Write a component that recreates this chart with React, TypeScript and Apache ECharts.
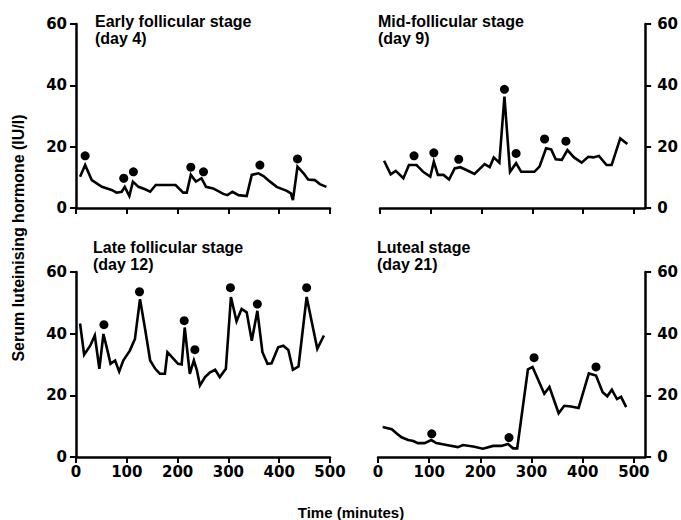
import React, { useEffect, useRef } from "react";
import * as echarts from "echarts";

// ---- Data (time in minutes, LH in IU/l) ----
const earlyT = [8, 18, 31, 51, 70, 80, 90, 96, 105, 112, 123, 136, 146, 157, 196, 211, 218, 226, 236, 247, 256, 270, 290, 298, 308, 320, 336, 346, 359, 369, 382, 395, 415, 423, 427, 436, 448, 457, 470, 480, 493];
const earlyV = [10.2, 14, 9.1, 6.9, 5.9, 5, 5.3, 6.9, 3.9, 8.6, 6.9, 6.1, 5.3, 7.5, 7.5, 5, 5, 10.8, 8.6, 9.7, 6.9, 6.4, 4.6, 4.2, 5.3, 4.2, 3.9, 10.8, 11.3, 10.4, 8.6, 6.9, 5.6, 4.8, 2.6, 13.5, 11.3, 9.3, 9.1, 7.8, 6.9];
const earlyPeakT = [18, 94, 113, 226, 251, 362, 436];
const earlyPeakV = [17, 9.7, 11.8, 13.3, 11.8, 14, 16];

const midT = [8, 21, 31, 46, 57, 72, 85, 99, 106, 114, 125, 136, 147, 158, 170, 186, 206, 216, 224, 235, 245, 256, 268, 278, 304, 314, 327, 337, 346, 358, 369, 382, 397, 410, 420, 431, 446, 456, 473, 487];
const midV = [15.4, 11, 12.1, 9.7, 14, 14, 11.8, 10.2, 15.1, 10.8, 10.8, 9.3, 12.9, 13.3, 12.4, 11.1, 14.3, 13.3, 16.5, 14.8, 36.3, 11.8, 14.6, 11.8, 11.8, 13.5, 19.5, 19.1, 15.9, 15.7, 18.9, 16.5, 14.8, 16.7, 16.5, 17, 14, 14, 22.7, 20.9];
const midPeakT = [67, 106, 155, 245, 268, 324, 366];
const midPeakV = [17, 18, 15.9, 38.7, 17.8, 22.5, 21.8];

const lateT = [8, 16, 28, 37, 46, 54, 62, 68, 77, 85, 93, 106, 116, 126, 136, 146, 156, 165, 175, 180, 192, 201, 208, 214, 224, 232, 238, 244, 254, 264, 274, 283, 295, 305, 316, 326, 336, 346, 357, 367, 377, 385, 398, 408, 418, 427, 438, 454, 475, 488];
const lateV = [43.3, 33.2, 36.1, 39.4, 28.6, 39.9, 34.5, 30.2, 31.3, 27.7, 31.3, 34.5, 38.3, 51.2, 41.5, 31.3, 28.6, 27, 27, 34, 31.8, 30.2, 30, 42, 27, 31.3, 28.1, 23.2, 25.9, 27.5, 28.3, 25.9, 28.6, 51.9, 44, 48, 46.9, 37.7, 47.4, 34, 30.2, 30.4, 35.6, 36.1, 34.7, 28.3, 29.4, 51.9, 35.1, 39.4];
const latePeakT = [55, 125, 213, 234, 304, 357, 454];
const latePeakV = [42.9, 53.6, 44.2, 34.8, 54.9, 49.6, 54.9];

const lutealT = [9, 27, 36, 46, 59, 69, 78, 91, 104, 114, 134, 156, 166, 186, 205, 225, 241, 254, 264, 272, 293, 302, 325, 335, 353, 364, 377, 392, 412, 426, 439, 448, 457, 467, 475, 485];
const lutealV = [9.7, 9, 7.7, 6.4, 5.5, 5.2, 4.5, 4.5, 5.5, 4.5, 3.9, 3.2, 3.9, 3.4, 2.7, 3.6, 3.6, 4.2, 2.8, 2.8, 28.4, 29.2, 20.5, 22.7, 14.2, 16.6, 16.4, 15.9, 27.1, 26.4, 21, 19.7, 21.8, 18.8, 19.5, 16.2];
const lutealPeakT = [105, 256, 305, 426];
const lutealPeakV = [7.5, 6.3, 32.2, 29.2];

const panelTitles = [
  "Early follicular stage\n(day 4)",
  "Mid-follicular stage\n(day 9)",
  "Late follicular stage\n(day 12)",
  "Luteal stage\n(day 21)",
];
const xTicks = [0, 100, 200, 300, 400, 500];
const yTitle = "Serum luteinising hormone (IU/l)";
const xTitle = "Time (minutes)";

const pair = (t: number[], v: number[]) => t.map((x, i) => [x, v[i]]);

const NUM_FONT = "DejaVu Sans";
const TXT_FONT = "Liberation Sans";

export default function App() {
  const ref = useRef<HTMLDivElement>(null);
  useEffect(() => {
    document.body.style.margin = "0";
    const chart = echarts.init(ref.current!, null, { renderer: "svg" });

    const grids = [
      { left: 76, top: 24, width: 254, height: 184 },
      { left: 380, top: 24, width: 266, height: 184 },
      { left: 76, top: 272, width: 254, height: 185 },
      { left: 378, top: 272, width: 268, height: 185 },
    ];
    const isRight = [false, true, false, true];
    const isBottom = [false, false, true, true];

    const xAxes = grids.map((_, i) => ({
      type: "value",
      gridIndex: i,
      min: 0,
      max: isRight[i] ? 522 : 500,
      interval: 100,
      axisLine: { show: true, onZero: false, lineStyle: { color: "#000", width: 2.5 } },
      axisTick: { show: true, length: 6, customValues: xTicks, lineStyle: { color: "#000", width: 2 } },
      axisLabel: {
        show: isBottom[i],
        customValues: xTicks,
        margin: 7,
        color: "#000",
        fontFamily: NUM_FONT,
        fontWeight: "bold",
        fontSize: 15,
      },
      splitLine: { show: false },
    }));

    const yAxes = grids.map((_, i) => ({
      type: "value",
      gridIndex: i,
      min: 0,
      max: 60,
      interval: 20,
      position: isRight[i] ? "right" : "left",
      axisLine: { show: true, onZero: false, lineStyle: { color: "#000", width: 2.5 } },
      axisTick: { show: true, length: 6, lineStyle: { color: "#000", width: 2 } },
      axisLabel: {
        margin: isRight[i] ? 12 : 9,
        color: "#000",
        fontFamily: NUM_FONT,
        fontWeight: "bold",
        fontSize: 15,
      },
      splitLine: { show: false },
    }));

    const lines = [
      pair(earlyT, earlyV),
      pair(midT, midV),
      pair(lateT, lateV),
      pair(lutealT, lutealV),
    ];
    const peaks = [
      pair(earlyPeakT, earlyPeakV),
      pair(midPeakT, midPeakV),
      pair(latePeakT, latePeakV),
      pair(lutealPeakT, lutealPeakV),
    ];

    const series: any[] = [];
    lines.forEach((d, i) => {
      series.push({
        type: "line",
        xAxisIndex: i,
        yAxisIndex: i,
        data: d,
        showSymbol: false,
        symbol: "none",
        lineStyle: { color: "#000", width: 2.6, join: "miter" },
      });
      series.push({
        type: "scatter",
        xAxisIndex: i,
        yAxisIndex: i,
        data: peaks[i],
        symbol: "circle",
        symbolSize: 9,
        itemStyle: { color: "#000", opacity: 1 },
      });
    });

    const titlePos = [
      { left: 95, top: 13 },
      { left: 378, top: 13 },
      { left: 93, top: 239 },
      { left: 377, top: 239 },
    ];

    chart.setOption({
      animation: false,
      backgroundColor: "#fff",
      title: panelTitles.map((t, i) => ({
        text: t,
        left: titlePos[i].left,
        top: titlePos[i].top,
        padding: 0,
        textStyle: {
          fontFamily: TXT_FONT,
          fontWeight: "bold",
          fontSize: 16,
          lineHeight: 17,
          color: "#000",
        },
      })),
      grid: grids,
      xAxis: xAxes,
      yAxis: yAxes,
      series,
      graphic: [
        {
          type: "text",
          x: 18,
          y: 238,
          rotation: Math.PI / 2,
          style: {
            text: yTitle,
            align: "center",
            verticalAlign: "middle",
            fontFamily: TXT_FONT,
            fontWeight: "bold",
            fontSize: 16,
            fill: "#000",
          },
        },
        {
          type: "text",
          x: 351,
          y: 512,
          style: {
            text: xTitle,
            align: "center",
            verticalAlign: "middle",
            fontFamily: TXT_FONT,
            fontWeight: "bold",
            fontSize: 15,
            fill: "#000",
          },
        },
      ],
    });
    return () => chart.dispose();
  }, []);
  return <div ref={ref} style={{ width: 681, height: 520 }} />;
}
